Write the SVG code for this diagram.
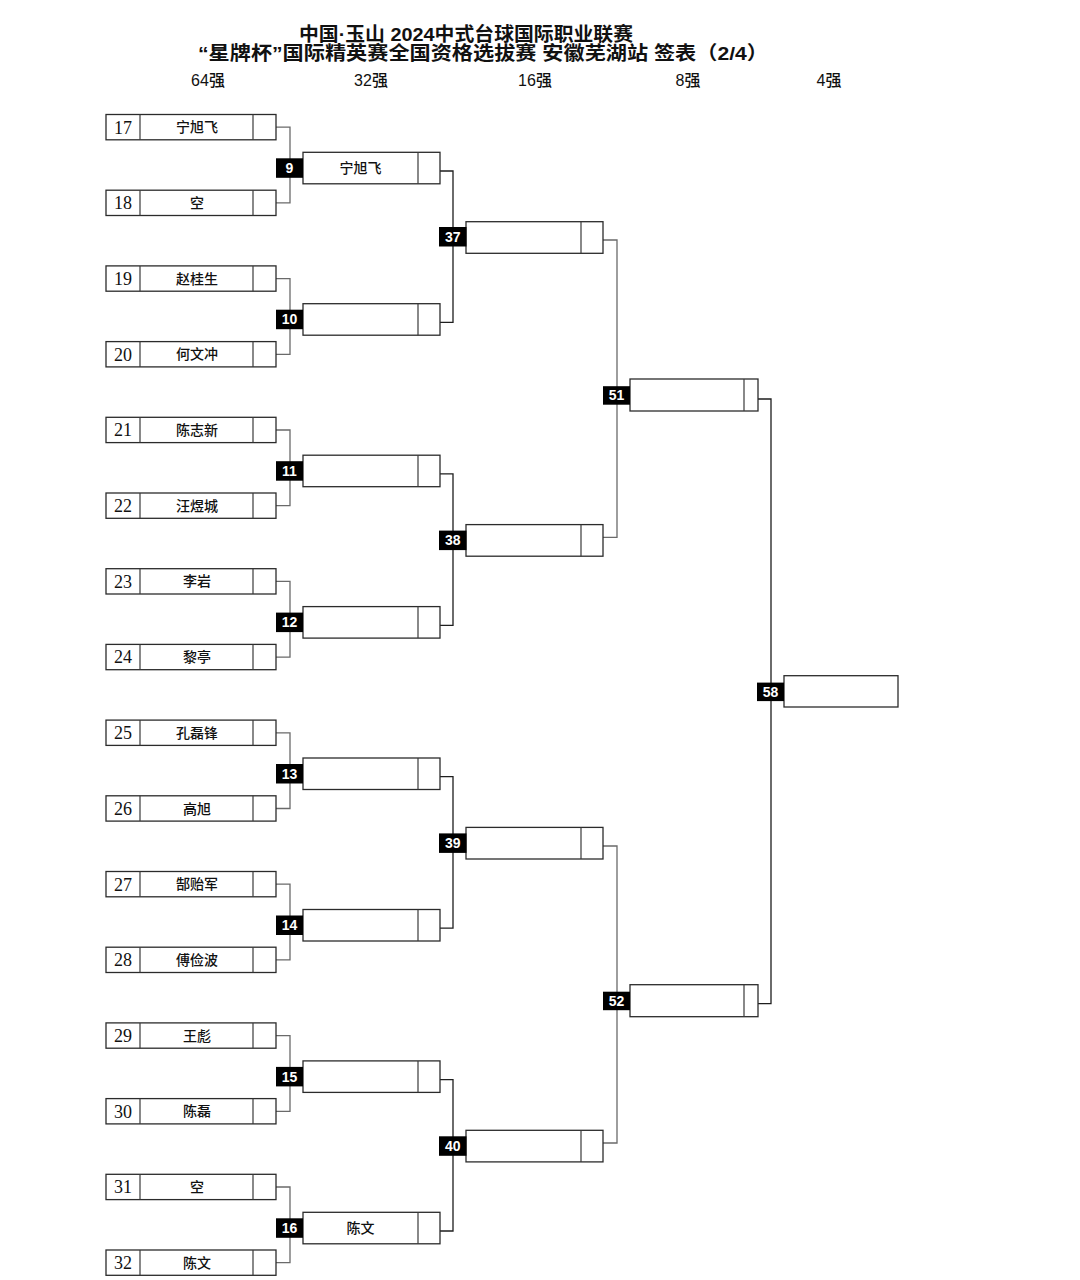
<svg xmlns="http://www.w3.org/2000/svg" width="1080" height="1280" viewBox="0 0 1080 1280">
<style>
.bg{fill:#ffffff}
.box{fill:#ffffff;stroke:#2b2b2b;stroke-width:1.3}
.div{stroke:#3a3a3a;stroke-width:1.2}
.c1{fill:none;stroke:#6a6a6a;stroke-width:1.3}
.c2{fill:none;stroke:#1e1e1e;stroke-width:1.3}
.lab{fill:#000000}
.labt{fill:#ffffff;font-family:"Liberation Sans","Noto Sans",sans-serif;font-weight:bold;font-size:14px;text-anchor:middle}
.seed{fill:#111111;font-family:"Liberation Serif","DejaVu Serif",serif;font-size:18px;text-anchor:middle}
.name{fill:#111111;font-family:"Noto Sans CJK SC","Noto Sans",sans-serif;font-weight:500;font-size:14px;text-anchor:middle}
.title{fill:#111111;font-family:"Liberation Sans","Noto Sans CJK SC",sans-serif;font-weight:600;font-size:19px;text-anchor:middle}
.hdr{fill:#111111;font-family:"Liberation Sans","Noto Sans CJK SC",sans-serif;font-weight:500;font-size:16px;text-anchor:middle}
</style>
<rect class="bg" x="0" y="0" width="1080" height="1280"/>
<g id="title">
<text class="title" x="466" y="41" textLength="334" lengthAdjust="spacingAndGlyphs">中国·玉山 2024中式台球国际职业联赛</text>
<text class="title" x="483" y="60" textLength="570" lengthAdjust="spacingAndGlyphs">“星牌杯”国际精英赛全国资格选拔赛 安徽芜湖站  签表（2/4）</text>
</g>
<g id="headers">
<text class="hdr" x="208" y="86">64强</text>
<text class="hdr" x="371" y="86">32强</text>
<text class="hdr" x="535" y="86">16强</text>
<text class="hdr" x="688" y="86">8强</text>
<text class="hdr" x="829" y="86">4强</text>
</g>
<g id="connectors">
<path class="c1" d="M276,127.2H290V202.9H276"/>
<path class="c1" d="M276,278.6H290V354.3H276"/>
<path class="c1" d="M276,430H290V505.7H276"/>
<path class="c1" d="M276,581.4H290V657.1H276"/>
<path class="c1" d="M276,732.8H290V808.5H276"/>
<path class="c1" d="M276,884.2H290V959.9H276"/>
<path class="c1" d="M276,1035.6H290V1111.3H276"/>
<path class="c1" d="M276,1187H290V1262.7H276"/>
<path class="c2" d="M440,171H453V322.4H440"/>
<path class="c2" d="M440,473.9H453V625.3H440"/>
<path class="c2" d="M440,776.7H453V928.2H440"/>
<path class="c2" d="M440,1079.6H453V1231H440"/>
<path class="c1" d="M603,240H617V537.3H603"/>
<path class="c1" d="M603,846H617V1143H603"/>
<path class="c2" d="M758,399H771V1003.7H758"/>
</g>
<g id="p17"><rect class="box" x="106" y="114.5" width="170" height="25.3"/><line class="div" x1="140" y1="114.5" x2="140" y2="139.8"/><line class="div" x1="253" y1="114.5" x2="253" y2="139.8"/><text class="seed" x="123" y="133.5">17</text><text class="name" x="197" y="132.2">宁旭飞</text></g>
<g id="p18"><rect class="box" x="106" y="190.2" width="170" height="25.3"/><line class="div" x1="140" y1="190.2" x2="140" y2="215.5"/><line class="div" x1="253" y1="190.2" x2="253" y2="215.5"/><text class="seed" x="123" y="209.2">18</text><text class="name" x="197" y="207.9">空</text></g>
<g id="p19"><rect class="box" x="106" y="265.9" width="170" height="25.3"/><line class="div" x1="140" y1="265.9" x2="140" y2="291.2"/><line class="div" x1="253" y1="265.9" x2="253" y2="291.2"/><text class="seed" x="123" y="284.9">19</text><text class="name" x="197" y="283.6">赵桂生</text></g>
<g id="p20"><rect class="box" x="106" y="341.6" width="170" height="25.3"/><line class="div" x1="140" y1="341.6" x2="140" y2="366.9"/><line class="div" x1="253" y1="341.6" x2="253" y2="366.9"/><text class="seed" x="123" y="360.6">20</text><text class="name" x="197" y="359.3">何文冲</text></g>
<g id="p21"><rect class="box" x="106" y="417.3" width="170" height="25.3"/><line class="div" x1="140" y1="417.3" x2="140" y2="442.6"/><line class="div" x1="253" y1="417.3" x2="253" y2="442.6"/><text class="seed" x="123" y="436.3">21</text><text class="name" x="197" y="435">陈志新</text></g>
<g id="p22"><rect class="box" x="106" y="493" width="170" height="25.3"/><line class="div" x1="140" y1="493" x2="140" y2="518.3"/><line class="div" x1="253" y1="493" x2="253" y2="518.3"/><text class="seed" x="123" y="512">22</text><text class="name" x="197" y="510.7">汪煜城</text></g>
<g id="p23"><rect class="box" x="106" y="568.7" width="170" height="25.3"/><line class="div" x1="140" y1="568.7" x2="140" y2="594"/><line class="div" x1="253" y1="568.7" x2="253" y2="594"/><text class="seed" x="123" y="587.7">23</text><text class="name" x="197" y="586.4">李岩</text></g>
<g id="p24"><rect class="box" x="106" y="644.4" width="170" height="25.3"/><line class="div" x1="140" y1="644.4" x2="140" y2="669.7"/><line class="div" x1="253" y1="644.4" x2="253" y2="669.7"/><text class="seed" x="123" y="663.4">24</text><text class="name" x="197" y="662.1">黎亭</text></g>
<g id="p25"><rect class="box" x="106" y="720.1" width="170" height="25.3"/><line class="div" x1="140" y1="720.1" x2="140" y2="745.4"/><line class="div" x1="253" y1="720.1" x2="253" y2="745.4"/><text class="seed" x="123" y="739.1">25</text><text class="name" x="197" y="737.8">孔磊锋</text></g>
<g id="p26"><rect class="box" x="106" y="795.8" width="170" height="25.3"/><line class="div" x1="140" y1="795.8" x2="140" y2="821.1"/><line class="div" x1="253" y1="795.8" x2="253" y2="821.1"/><text class="seed" x="123" y="814.8">26</text><text class="name" x="197" y="813.5">高旭</text></g>
<g id="p27"><rect class="box" x="106" y="871.5" width="170" height="25.3"/><line class="div" x1="140" y1="871.5" x2="140" y2="896.8"/><line class="div" x1="253" y1="871.5" x2="253" y2="896.8"/><text class="seed" x="123" y="890.5">27</text><text class="name" x="197" y="889.2">郜贻军</text></g>
<g id="p28"><rect class="box" x="106" y="947.2" width="170" height="25.3"/><line class="div" x1="140" y1="947.2" x2="140" y2="972.5"/><line class="div" x1="253" y1="947.2" x2="253" y2="972.5"/><text class="seed" x="123" y="966.2">28</text><text class="name" x="197" y="964.9">傅俭波</text></g>
<g id="p29"><rect class="box" x="106" y="1022.9" width="170" height="25.3"/><line class="div" x1="140" y1="1022.9" x2="140" y2="1048.2"/><line class="div" x1="253" y1="1022.9" x2="253" y2="1048.2"/><text class="seed" x="123" y="1041.9">29</text><text class="name" x="197" y="1040.6">王彪</text></g>
<g id="p30"><rect class="box" x="106" y="1098.6" width="170" height="25.3"/><line class="div" x1="140" y1="1098.6" x2="140" y2="1123.9"/><line class="div" x1="253" y1="1098.6" x2="253" y2="1123.9"/><text class="seed" x="123" y="1117.6">30</text><text class="name" x="197" y="1116.3">陈磊</text></g>
<g id="p31"><rect class="box" x="106" y="1174.3" width="170" height="25.3"/><line class="div" x1="140" y1="1174.3" x2="140" y2="1199.6"/><line class="div" x1="253" y1="1174.3" x2="253" y2="1199.6"/><text class="seed" x="123" y="1193.3">31</text><text class="name" x="197" y="1192">空</text></g>
<g id="p32"><rect class="box" x="106" y="1250" width="170" height="25.3"/><line class="div" x1="140" y1="1250" x2="140" y2="1275.3"/><line class="div" x1="253" y1="1250" x2="253" y2="1275.3"/><text class="seed" x="123" y="1269">32</text><text class="name" x="197" y="1267.7">陈文</text></g>
<g id="m9"><rect class="box" x="303" y="152.3" width="137" height="31.5"/><line class="div" x1="418" y1="152.3" x2="418" y2="183.8"/><rect class="lab" x="276" y="158.3" width="27" height="19.5"/><text class="labt" x="289.5" y="173">9</text><text class="name" x="360.5" y="173.1">宁旭飞</text></g>
<g id="m10"><rect class="box" x="303" y="303.7" width="137" height="31.5"/><line class="div" x1="418" y1="303.7" x2="418" y2="335.2"/><rect class="lab" x="276" y="309.7" width="27" height="19.5"/><text class="labt" x="289.5" y="324.4">10</text></g>
<g id="m11"><rect class="box" x="303" y="455.2" width="137" height="31.5"/><line class="div" x1="418" y1="455.2" x2="418" y2="486.7"/><rect class="lab" x="276" y="461.2" width="27" height="19.5"/><text class="labt" x="289.5" y="475.9">11</text></g>
<g id="m12"><rect class="box" x="303" y="606.6" width="137" height="31.5"/><line class="div" x1="418" y1="606.6" x2="418" y2="638.1"/><rect class="lab" x="276" y="612.6" width="27" height="19.5"/><text class="labt" x="289.5" y="627.3">12</text></g>
<g id="m13"><rect class="box" x="303" y="758" width="137" height="31.5"/><line class="div" x1="418" y1="758" x2="418" y2="789.5"/><rect class="lab" x="276" y="764" width="27" height="19.5"/><text class="labt" x="289.5" y="778.7">13</text></g>
<g id="m14"><rect class="box" x="303" y="909.5" width="137" height="31.5"/><line class="div" x1="418" y1="909.5" x2="418" y2="941"/><rect class="lab" x="276" y="915.5" width="27" height="19.5"/><text class="labt" x="289.5" y="930.2">14</text></g>
<g id="m15"><rect class="box" x="303" y="1060.9" width="137" height="31.5"/><line class="div" x1="418" y1="1060.9" x2="418" y2="1092.4"/><rect class="lab" x="276" y="1066.9" width="27" height="19.5"/><text class="labt" x="289.5" y="1081.6">15</text></g>
<g id="m16"><rect class="box" x="303" y="1212.3" width="137" height="31.5"/><line class="div" x1="418" y1="1212.3" x2="418" y2="1243.8"/><rect class="lab" x="276" y="1218.3" width="27" height="19.5"/><text class="labt" x="289.5" y="1233">16</text><text class="name" x="360.5" y="1233.1">陈文</text></g>
<g id="m37"><rect class="box" x="466" y="221.7" width="137" height="31.6"/><line class="div" x1="581" y1="221.7" x2="581" y2="253.3"/><rect class="lab" x="439" y="227" width="27.5" height="19.5"/><text class="labt" x="452.7" y="241.7">37</text></g>
<g id="m38"><rect class="box" x="466" y="524.6" width="137" height="31.6"/><line class="div" x1="581" y1="524.6" x2="581" y2="556.2"/><rect class="lab" x="439" y="530.6" width="27.5" height="19.5"/><text class="labt" x="452.7" y="545.3">38</text></g>
<g id="m39"><rect class="box" x="466" y="827.4" width="137" height="31.6"/><line class="div" x1="581" y1="827.4" x2="581" y2="859"/><rect class="lab" x="439" y="833.4" width="27.5" height="19.5"/><text class="labt" x="452.7" y="848.1">39</text></g>
<g id="m40"><rect class="box" x="466" y="1130.3" width="137" height="31.6"/><line class="div" x1="581" y1="1130.3" x2="581" y2="1161.9"/><rect class="lab" x="439" y="1136.3" width="27.5" height="19.5"/><text class="labt" x="452.7" y="1151">40</text></g>
<g id="m51"><rect class="box" x="630" y="379" width="128" height="32"/><line class="div" x1="744" y1="379" x2="744" y2="411"/><rect class="lab" x="603" y="386.2" width="27" height="18.5"/><text class="labt" x="616.5" y="400.4">51</text></g>
<g id="m52"><rect class="box" x="630" y="984.7" width="128" height="32"/><line class="div" x1="744" y1="984.7" x2="744" y2="1016.7"/><rect class="lab" x="603" y="991.7" width="27" height="18.5"/><text class="labt" x="616.5" y="1005.9">52</text></g>
<g id="m58"><rect class="box" x="784" y="675.7" width="114" height="31.3"/><rect class="lab" x="757" y="682.6" width="27" height="18.5"/><text class="labt" x="770.5" y="696.8">58</text></g>
</svg>
